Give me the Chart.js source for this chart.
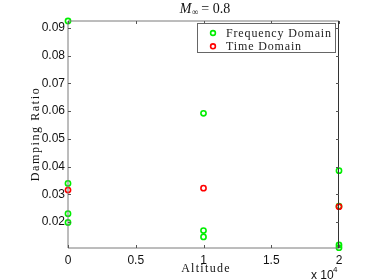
<!DOCTYPE html>
<html>
<head>
<meta charset="utf-8">
<script src="https://cdn.jsdelivr.net/npm/chart.js@4/dist/chart.umd.min.js"></script>
<style>
  html, body { margin: 0; padding: 0; background: #fff; }
  #wrap { width: 374px; height: 280px; }
</style>
</head>
<body>
<div id="wrap"><canvas id="myChart" width="374" height="280"></canvas></div>
<script>
// data
const altitude = [0, 10000, 20000];
const freqDomain = [
  [0.0925, 0.0339, 0.0230, 0.0198],
  [0.0592, 0.0169, 0.0146],
  [0.0385, 0.0257, 0.0117, 0.0107]
];
const timeDomain = [0.0315, 0.0322, 0.0255];
const xTicks = [0, 5000, 10000, 15000, 20000];
const yTicks = [0.02, 0.03, 0.04, 0.05, 0.06, 0.07, 0.08, 0.09];

const freqPoints = [];
altitude.forEach((a, i) => freqDomain[i].forEach(v => freqPoints.push({ x: a, y: v })));
const timePoints = altitude.map((a, i) => ({ x: a, y: timeDomain[i] }));

const serif = '"Liberation Serif", "DejaVu Serif", serif';
const sans = '"Liberation Sans", Arial, sans-serif';

// frame, inward ticks, title, axis labels, legend
const decorations = {
  id: "decorations",
  afterDraw(chart) {
    const ctx = chart.ctx;
    const a = chart.chartArea;
    const xs = chart.scales.x, ys = chart.scales.y;
    ctx.save();
    ctx.lineWidth = 1;
    ctx.strokeStyle = "#7a7a7a";
    ctx.beginPath();
    ctx.moveTo(a.left, a.top); ctx.lineTo(a.left, a.bottom); ctx.lineTo(a.right, a.bottom);
    ctx.moveTo(a.left, a.top); ctx.lineTo(a.right, a.top);
    ctx.stroke();
    ctx.strokeStyle = "#333";
    ctx.beginPath();
    ctx.moveTo(a.right - 0.5, a.top); ctx.lineTo(a.right - 0.5, a.bottom);
    ctx.stroke();

    ctx.strokeStyle = "#555";
    ctx.beginPath();
    xTicks.forEach(t => {
      const px = Math.round(xs.getPixelForValue(t)) + 0.5;
      ctx.moveTo(px, a.bottom); ctx.lineTo(px, a.bottom - 3);
      ctx.moveTo(px, a.top); ctx.lineTo(px, a.top + 3);
    });
    yTicks.forEach(t => {
      const py = Math.round(ys.getPixelForValue(t)) + 0.5;
      ctx.moveTo(a.left, py); ctx.lineTo(a.left + 3, py);
      ctx.moveTo(a.right, py); ctx.lineTo(a.right - 3, py);
    });
    ctx.stroke();

    // title M∞ = 0.8
    ctx.fillStyle = "#111";
    ctx.textBaseline = "alphabetic";
    ctx.textAlign = "left";
    ctx.font = "italic 14px " + serif;
    const mW = ctx.measureText("M").width;
    ctx.font = "9px " + serif;
    const infW = ctx.measureText("∞").width;
    ctx.font = "14px " + serif;
    const restW = ctx.measureText(" = 0.8").width;
    let tx = 205 - (mW + infW + restW) / 2;
    ctx.font = "italic 14px " + serif;
    ctx.fillText("M", tx, 13);
    ctx.font = "9px " + serif;
    ctx.fillText("∞", tx + mW + 0.5, 15);
    ctx.font = "14px " + serif;
    ctx.fillText(" = 0.8", tx + mW + infW, 13);

    // axis labels
    ctx.font = "12px " + serif;
    ctx.letterSpacing = "1.3px";
    ctx.textAlign = "center";
    ctx.textBaseline = "middle";
    ctx.fillText("Altitude", 206, 269);
    ctx.save();
    ctx.translate(36, 134);
    ctx.rotate(-Math.PI / 2);
    ctx.letterSpacing = "1.6px";
    ctx.fillText("Damping Ratio", 0, 0);
    ctx.restore();
    ctx.letterSpacing = "0px";

    // x 10^4 multiplier
    ctx.textAlign = "left";
    ctx.textBaseline = "alphabetic";
    ctx.font = "12px " + sans;
    ctx.fillText("x 10", 311, 279);
    ctx.font = "8px " + sans;
    ctx.fillText("4", 333, 272);

    // legend
    ctx.fillStyle = "#fff";
    ctx.fillRect(197.5, 23.5, 138, 29);
    ctx.strokeStyle = "#666";
    ctx.strokeRect(197.5, 23.5, 138, 29);
    ctx.font = "12px " + serif;
    ctx.letterSpacing = "0.85px";
    ctx.textBaseline = "middle";
    chart.data.datasets.forEach((ds, i) => {
      const ly = 33 + i * 13.3;
      ctx.beginPath();
      ctx.arc(213, ly, 2.4, 0, Math.PI * 2);
      ctx.strokeStyle = ds.borderColor;
      ctx.lineWidth = 1.6;
      ctx.stroke();
      ctx.fillStyle = "#222";
      ctx.fillText(ds.label, 226, ly + 0.5);
    });
    ctx.restore();
  }
};

new Chart(document.getElementById("myChart").getContext("2d"), {
  type: "scatter",
  data: {
    datasets: [
      {
        label: "Frequency Domain",
        data: freqPoints,
        borderColor: "#00ee00",
        backgroundColor: "rgba(0,0,0,0)",
        pointRadius: 2.6,
        pointBorderWidth: 1.6,
        clip: false,
        order: 1
      },
      {
        label: "Time Domain",
        data: timePoints,
        borderColor: "#ff0000",
        backgroundColor: "rgba(0,0,0,0)",
        pointRadius: 2.6,
        pointBorderWidth: 1.6,
        clip: false,
        order: 0
      }
    ]
  },
  options: {
    responsive: false,
    animation: false,
    layout: { padding: { left: 0, right: 35, top: 21, bottom: 0 } },
    plugins: {
      legend: { display: false },
      title: { display: false },
      tooltip: { enabled: false }
    },
    scales: {
      x: {
        type: "linear",
        min: 0,
        max: 20000,
        afterFit: s => { s.height = 32; },
        afterBuildTicks: s => { s.ticks = xTicks.map(v => ({ value: v })); },
        grid: { display: false, drawTicks: false },
        border: { display: false },
        ticks: {
          padding: 5,
          maxRotation: 0,
          color: "#111",
          font: { family: sans, size: 12 },
          callback: v => String(v / 10000)
        }
      },
      y: {
        type: "linear",
        min: 0.0106,
        max: 0.0925,
        afterFit: s => { s.width = 68; },
        afterBuildTicks: s => { s.ticks = yTicks.map(v => ({ value: v })); },
        grid: { display: false, drawTicks: false },
        border: { display: false },
        ticks: {
          padding: 3,
          color: "#111",
          font: { family: sans, size: 12 },
          callback: v => v.toFixed(2)
        }
      }
    }
  },
  plugins: [decorations]
});
</script>
</body>
</html>
